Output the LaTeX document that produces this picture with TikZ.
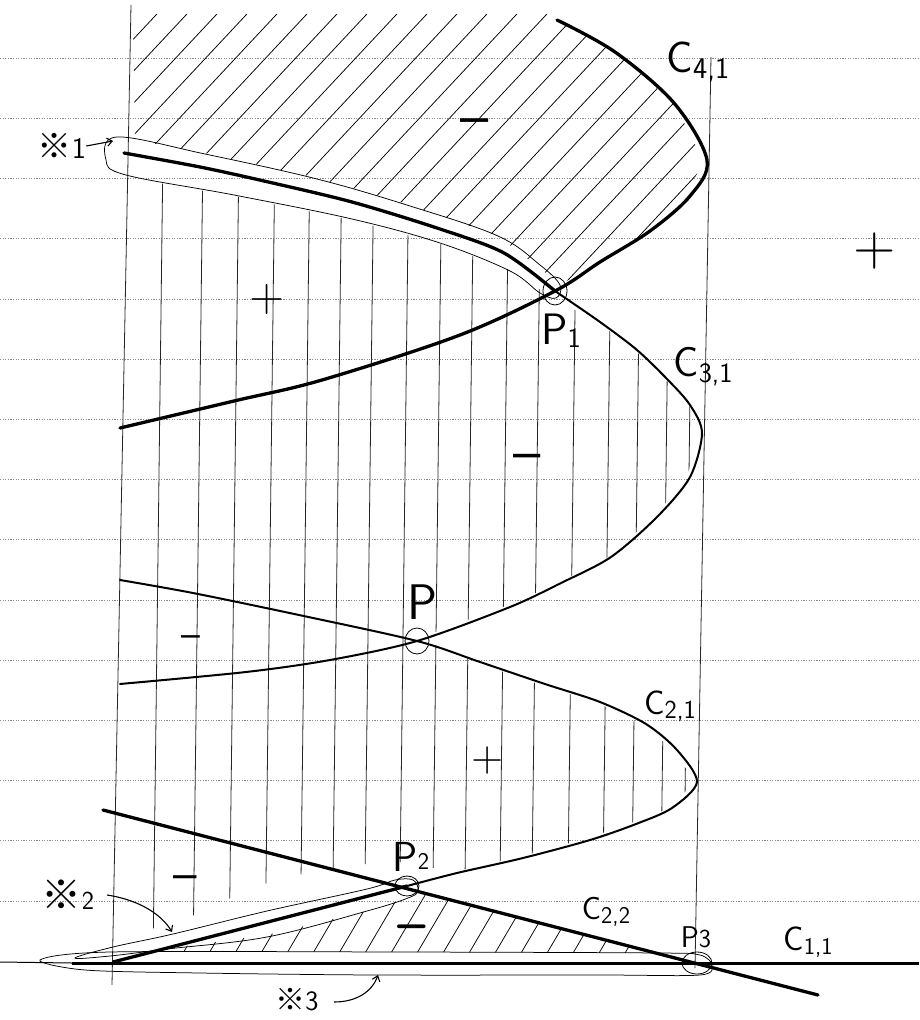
\documentclass[tikz,border=0pt]{standalone}
\usepackage{fontspec}
\newfontfamily\cjk{Noto Sans CJK JP}
\usetikzlibrary{arrows.meta}
\begin{document}
\begin{tikzpicture}[x=1pt,y=-1pt,
  paper/.style={black!45, line width=0.6pt, dash pattern=on 1.2pt off 1.4pt},
  frameline/.style={black!85, line width=0.8pt},
  vhatch/.style={black!85, line width=0.8pt},
  dhatch/.style={black, line width=0.75pt},
  skcurve/.style={black, line width=2pt, line cap=round, line join=round},
  skheavy/.style={black, line width=3.3pt, line cap=round, line join=round},
  loopline/.style={black, line width=0.75pt},
  pmark/.style={black, line width=0.8pt},
  lab/.style={inner sep=0pt, font=\sffamily},
  sign/.style={inner sep=0pt, font=\sffamily},
  note/.style={-{Straight Barb[length=5pt,width=8pt]}, black, line width=1.1pt},
]
\useasboundingbox (0,0) rectangle (919,1020);
\fill[white] (0,0) rectangle (919,1020);

% notebook lines
\foreach \k in {0,...,14} \draw[paper] (0,{58+60.2*\k}) -- (919,{58+60.2*\k});

% key points
\coordinate (P1) at (555,291);
\coordinate (P) at (417,641);
\coordinate (P2) at (407,886);
\coordinate (P3) at (697,963);
\coordinate (Q2) at (113,962);
\coordinate (L1) at (103,810);
\coordinate (L2) at (818,995);
\coordinate (LT) at (131,5);
\coordinate (LB) at (112,985);
\coordinate (RT) at (711,57);
\coordinate (RB) at (695,968);
\coordinate (B0) at (0,962);
\coordinate (B1) at (72,963);
\coordinate (B2) at (919,963);

% frame verticals
\draw[frameline] (LT) -- (LB);
\draw[frameline] (RT) -- (RB);

% vertical hatching
\begin{scope}
\clip (118,176) -- (234,196) -- (352,220) -- (440,244) -- (510,270) -- (550,296) -- (600,324) -- (637,352) -- (668,382) -- (690,407) -- (699,433) -- (687,477) -- (654,517) -- (608,557) -- (558,583) -- (508,605) -- (417,639) -- (480,664) -- (545,686) -- (600,704) -- (644,726) -- (675,751) -- (694,782) -- (670,808) -- (634,822) -- (588,838) -- (523,856) -- (457,871) -- (420,866) -- (402,862) -- (366,864) -- (334,868) -- (302,874) -- (264,884) -- (226,900) -- (190,917) -- (155,928) -- (118,935) -- cycle;
\foreach \x in {158,198,234,270,305,337,369,404,437,469,504,536,572,607,636,665,688}
  \draw[vhatch] ({\x+5},150) -- ({\x-5},960);
\end{scope}

% diagonal hatching, top region
\begin{scope}
\clip (133,14) -- (560,14) -- (557,20) -- (615,52) -- (674,103) -- (703,160) -- (688,195) -- (650,230) -- (600,262) -- (556,287) -- (551,277) -- (498,236) -- (410,205) -- (317,178) -- (205,153) -- (135,140) -- cycle;
\foreach \i in {-12,...,26} \draw[dhatch] ({30*\i},310) -- ++(290,-310);
\end{scope}

% diagonal hatching, bottom triangle
\begin{scope}
\clip (150,951) -- (267,935) -- (367,911) -- (405,899) -- (418,893) -- (656,953) -- cycle;
\foreach \i in {0,...,22} \draw[dhatch] ({150+26*\i},965) -- ++(50,-85);
\end{scope}

% curves
\draw[skheavy] plot[smooth, tension=0.55] coordinates {(557,20) (615,52) (674,103) (707,160) (690,196) (650,231) (600,262) (P1) (460,335) (322,380) (234,401) (120,428)};
\draw[skheavy] plot[smooth, tension=0.5] coordinates {(124,153) (200,167) (264,181) (352,202) (440,229) (504,253) (P1)};
\draw[skcurve] plot[smooth, tension=0.5] coordinates {(P1) (600,322) (637,350) (668,380) (690,405) (702,433) (690,477) (657,517) (611,557) (561,583) (510,607) (P) (330,660) (246,672) (120,684)};
\draw[skcurve] plot[smooth, tension=0.5] coordinates {(120,580) (193,593) (299,615) (P) (480,662) (545,684) (600,702) (646,724) (677,750) (697,782) (672,808) (636,824) (590,840) (523,858) (457,873) (P2)};
\draw[skheavy] (P2) -- (Q2);
\draw[skheavy] (L1) -- (L2);

% baseline C1,1
\draw[black, line width=1pt] (B0) -- (B1);
\draw[black, line width=3pt] (B1) -- (B2);

% loops
\draw[loopline] plot[smooth cycle, tension=0.6] coordinates {(117,137) (205,154) (317,179) (410,206) (498,236) (540,265) (560,285) (556,298) (540,293) (510,271) (440,243) (352,219) (234,195) (126,175) (106,160)};
\draw[loopline] plot[smooth cycle, tension=0.6] coordinates {(75,958) (113,947) (173,934) (267,911) (367,889) (395,880) (413,880) (418,891) (408,898) (367,911) (267,937) (167,949) (110,956)};
\draw[loopline] plot[smooth cycle, tension=0.5] coordinates {(40,960) (110,952) (400,952) (660,953) (700,955) (712,965) (700,975) (600,975) (375,975) (200,973) (85,970)};

% point marks
\draw[pmark] (P1) ellipse [x radius=12pt, y radius=14pt];
\draw[pmark] (P) ellipse [x radius=12pt, y radius=13pt];
\draw[pmark] (P2) ellipse [x radius=12pt, y radius=10pt];
\draw[pmark] (P3) ellipse [x radius=15pt, y radius=11pt];

% labels
\node[lab] (c41) at (698,62) {\fontsize{44}{44}\selectfont C\raisebox{-6pt}{\fontsize{30}{30}\selectfont 4,1}};
\node[lab] (c31) at (703,367) {\fontsize{42}{42}\selectfont C\raisebox{-6pt}{\fontsize{28}{28}\selectfont 3,1}};
\node[lab] (c21) at (670,706) {\fontsize{34}{34}\selectfont C\raisebox{-4pt}{\fontsize{26}{26}\selectfont 2,1}};
\node[lab] (c22) at (606,912) {\fontsize{32}{32}\selectfont C\raisebox{-4pt}{\fontsize{24}{24}\selectfont 2,2}};
\node[lab] (c11) at (808,942) {\fontsize{34}{34}\selectfont C\raisebox{-4pt}{\fontsize{24}{24}\selectfont 1,1}};
\node[lab] (p1l) at (561,331) {\fontsize{44}{44}\selectfont P\raisebox{-3pt}{\fontsize{28}{28}\selectfont 1}};
\node[lab] (pl) at (422,602) {\fontsize{50}{50}\selectfont P};
\node[lab] (p2l) at (411,857) {\fontsize{42}{42}\selectfont P\raisebox{2pt}{\fontsize{24}{24}\selectfont 2}};
\node[lab] (p3l) at (696,937) {\fontsize{30}{30}\selectfont P\fontsize{26}{26}\selectfont 3};

% reference marks
\node[lab] (n1) at (62,146) {{\cjk\fontsize{34}{34}\selectfont ※}{\fontsize{30}{30}\selectfont 1}};
\node[lab] (n2) at (68,895) {{\cjk\fontsize{40}{40}\selectfont ※}{\fontsize{26}{26}\selectfont 2}};
\node[lab] (n3) at (297,1000) {{\cjk\fontsize{30}{30}\selectfont ※}{\fontsize{28}{28}\selectfont 3}};
\coordinate (a1e) at (113,141);
\coordinate (a2s) at (107,895);
\coordinate (a2e) at (172,932);
\coordinate (a3s) at (334,1002);
\coordinate (a3e) at (378,975);
\draw[note] (n1.east) -- (a1e);
\draw[note] (a2s) .. controls (140,900) and (162,915) .. (a2e);
\draw[note] (a3s) .. controls (356,1002) and (372,992) .. (a3e);

% signs
\node[sign] (s1) at (475,128) {\fontsize{60}{60}\selectfont –};
\node[sign] (s2) at (267,300) {\fontsize{48}{48}\selectfont +};
\node[sign] (s3) at (875,251) {\fontsize{58}{58}\selectfont +};
\node[sign] (s4) at (527,463) {\fontsize{58}{58}\selectfont –};
\node[sign] (s5) at (191,642) {\fontsize{40}{40}\selectfont –};
\node[sign] (s6) at (488,761) {\fontsize{44}{44}\selectfont +};
\node[sign] (s7) at (185,883) {\fontsize{50}{50}\selectfont –};
\node[sign] (s8) at (412,933) {\fontsize{52}{52}\selectfont\bfseries –};
\end{tikzpicture}
\end{document}
